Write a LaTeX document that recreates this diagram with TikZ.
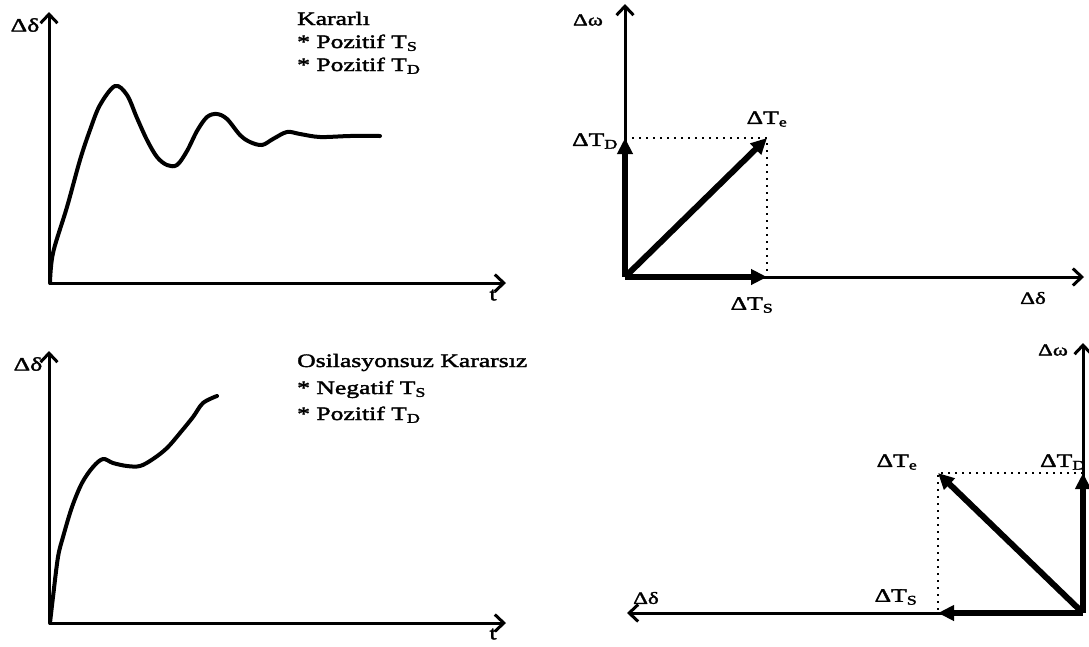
\documentclass[tikz,border=0pt]{standalone}
\usepackage{fontspec}
\setmainfont{Liberation Serif}[FakeStretch=1.35,FakeBold=2]
\usetikzlibrary{arrows.meta,positioning,calc}

\begin{document}
\begin{tikzpicture}[x=1pt,y=-1pt,
    axis/.style={line width=3pt,-{Straight Barb[length=9pt,width=17pt]}},
    curve/.style={line width=4pt,line join=round,line cap=round},
    vec/.style={line width=6pt,-{Triangle[length=16pt,width=15pt]}},
    guide/.style={line width=2pt,dash pattern=on 1.8pt off 5.2pt},
    lbl/.style={inner sep=0pt,font=\fontsize{19}{23}\selectfont},
    albl/.style={inner sep=0pt,font=\fontsize{17}{20}\selectfont}]

    \useasboundingbox (0,0) rectangle (1089,646);

    % kararli
    \coordinate (o1) at (49,283);
    \coordinate (y1) at (49,12);
    \coordinate (x1) at (506,283);
    \draw[axis] (o1) -- (y1);
    \draw[axis] (o1) -- (x1);
    \node[lbl] (d1) at (25,25) {Δδ};
    \node[lbl] (t1) at (493,295) {t};
    \node[lbl,anchor=base west] (k1) at (297,25) {Kararlı};
    \node[lbl,anchor=base west] (k2) at (297,48) {* Pozitif T\textsubscript{S}};
    \node[lbl,anchor=base west] (k3) at (297,71) {* Pozitif T\textsubscript{D}};
    \draw[curve] plot[smooth,tension=0.55] coordinates {(50,283) (53,253) (67,207) (80,160) (90,130) (100,105) (115,86) (127,95) (137,118) (147,140) (157,157) (167,165) (177,165) (187,151) (197,131) (207,117) (217,114) (227,119) (240,135) (250,142) (262,145) (273,139) (287,132) (300,134) (320,137) (350,136) (380,136)};

    % vektorler, kararli
    \coordinate (o2) at (625,277);
    \coordinate (td2) at (625,138);
    \coordinate (te2) at (767,138);
    \coordinate (ts2) at (767,277);
    \draw[axis] (o2) -- (625,4);
    \draw[axis] (o2) -- (1084,277);
    \draw[guide] (td2) -- (te2) -- (ts2);
    \draw[vec] (o2) -- (td2);
    \draw[vec] (o2) -- (te2);
    \draw[vec] (o2) -- (ts2);
    \node[albl] (w2) at (588,20) {Δω};
    \node[albl] (d2) at (1033,298) {Δδ};
    \node[lbl] (ltd2) at (595,141) {ΔT\textsubscript{D}};
    \node[lbl] (lte2) at (767,119) {ΔT\textsubscript{e}};
    \node[lbl] (lts2) at (752,305) {ΔT\textsubscript{S}};

    % osilasyonsuz kararsiz
    \coordinate (o3) at (49,623);
    \coordinate (y3) at (49,351);
    \coordinate (x3) at (506,623);
    \draw[axis] (o3) -- (y3);
    \draw[axis] (o3) -- (x3);
    \node[lbl] (d3) at (28,364) {Δδ};
    \node[lbl] (t3) at (493,634) {t};
    \node[lbl,anchor=base west] (s1) at (297,367) {Osilasyonsuz Kararsız};
    \node[lbl,anchor=base west] (s2) at (297,394) {* Negatif T\textsubscript{S}};
    \node[lbl,anchor=base west] (s3) at (297,420) {* Pozitif T\textsubscript{D}};
    \draw[curve] plot[smooth,tension=0.55] coordinates {(50,623) (53,597) (58,557) (63,537) (72,507) (82,483) (93,467) (103,459) (113,463) (127,466) (140,466) (153,459) (167,448) (180,433) (193,417) (203,403) (217,396)};

    % vektorler, kararsiz
    \coordinate (o4) at (1083,613);
    \coordinate (td4) at (1083,473);
    \coordinate (te4) at (938,473);
    \coordinate (ts4) at (938,613);
    \draw[axis] (o4) -- (1083,343);
    \draw[axis] (o4) -- (627,613);
    \draw[guide] (td4) -- (te4) -- (ts4);
    \draw[vec] (o4) -- (td4);
    \draw[vec] (o4) -- (te4);
    \draw[vec] (o4) -- (ts4);
    \node[albl] (w4) at (1053,350) {Δω};
    \node[albl] (d4) at (646,598) {Δδ};
    \node[lbl] (ltd4) at (1063,462) {ΔT\textsubscript{D}};
    \node[lbl] (lte4) at (897,462) {ΔT\textsubscript{e}};
    \node[lbl] (lts4) at (896,597) {ΔT\textsubscript{S}};
\end{tikzpicture}
\end{document}
